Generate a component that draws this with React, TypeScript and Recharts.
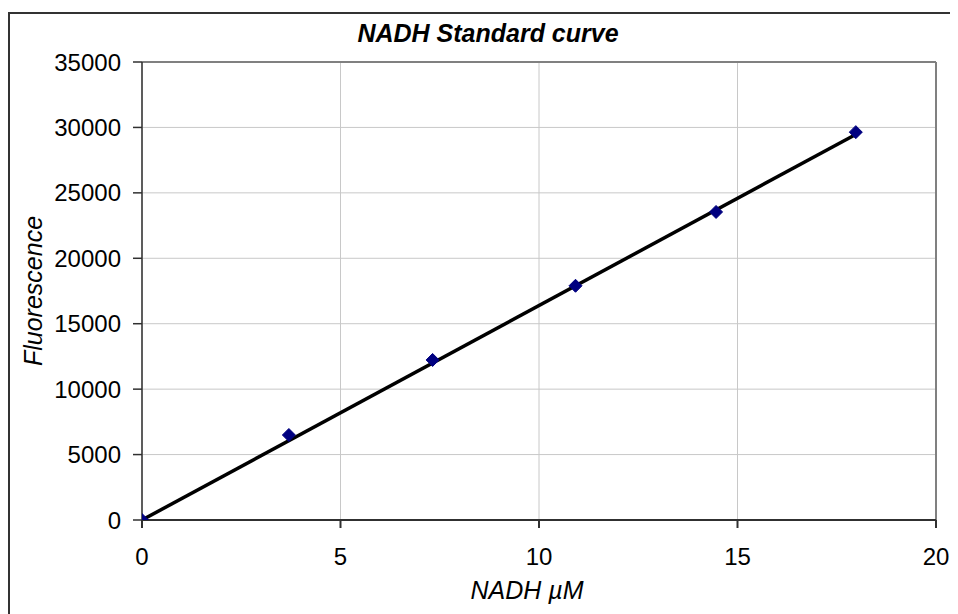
import { ScatterChart, Scatter, XAxis, YAxis, CartesianGrid, ReferenceLine } from "recharts";

const nadhUm = [0, 3.7, 7.32, 10.92, 14.46, 17.98];
const fluorescence = [0, 6495, 12230, 17900, 23540, 29640];

// Excel linear trendline, endpoints
const trendX = [0, 18];
const trendY = [0, 29500];

const xTicks = [0, 5, 10, 15, 20];
const yTicks = [0, 5000, 10000, 15000, 20000, 25000, 30000, 35000];

const points = nadhUm.map((x, i) => ({ x, y: fluorescence[i] }));
const trend = trendX.map((x, i) => ({ x, y: trendY[i] }));

const FONT = "'Liberation Sans', Arial, sans-serif";
const AXIS = "#303030";

function Diamond(props: any) {
  const { cx, cy } = props;
  const r = 6.5;
  return (
    <polygon
      points={`${cx},${cy - r} ${cx + r},${cy} ${cx},${cy + r} ${cx - r},${cy}`}
      fill="#000080"
      stroke="#000080"
    />
  );
}

const NoShape = () => <g />;

export default function App() {
  return (
    <div style={{ position: "relative", width: 950, height: 606, fontFamily: FONT }}>
      <div
        style={{
          position: "absolute",
          left: 0,
          top: 4,
          right: 0,
          bottom: 0,
          borderTop: "2px solid #333",
          borderLeft: "2px solid #333",
        }}
      />
      <ScatterChart
        width={950}
        height={606}
        margin={{ top: 54, right: 22, bottom: 0, left: 0 }}
        style={{ position: "absolute", left: 0, top: 0 }}
      >
        <CartesianGrid stroke="#c8c8c8" strokeWidth={1} />
        <XAxis
          type="number"
          dataKey="x"
          domain={[0, 20]}
          ticks={xTicks}
          allowDataOverflow
          stroke={AXIS}
          strokeWidth={2}
          tickSize={8}
          tickMargin={20}
          height={94}
          tick={{ fill: "#000", fontSize: 24, fontFamily: FONT }}
        />
        <YAxis
          type="number"
          dataKey="y"
          domain={[0, 35000]}
          ticks={yTicks}
          allowDataOverflow
          stroke={AXIS}
          strokeWidth={1.5}
          tickSize={9}
          tickMargin={12}
          width={134}
          tick={{ fill: "#000", fontSize: 24, fontFamily: FONT }}
        />
        <ReferenceLine y={35000} stroke="#808080" strokeWidth={2} />
        <ReferenceLine x={20} stroke="#808080" strokeWidth={2} />
        <Scatter
          data={trend}
          line={{ stroke: "#000", strokeWidth: 3.5 }}
          shape={NoShape}
          isAnimationActive={false}
        />
        <Scatter data={points} shape={Diamond} isAnimationActive={false} />
      </ScatterChart>
      <div
        style={{
          position: "absolute",
          left: 480,
          top: 25,
          transform: "translate(-50%, -50%)",
          fontSize: 25,
          fontWeight: "bold",
          fontStyle: "italic",
          whiteSpace: "nowrap",
        }}
      >
        NADH Standard curve
      </div>
      <div
        style={{
          position: "absolute",
          left: 519,
          top: 582,
          transform: "translate(-50%, -50%)",
          fontSize: 25,
          fontStyle: "italic",
          whiteSpace: "nowrap",
        }}
      >
        NADH µM
      </div>
      <div
        style={{
          position: "absolute",
          left: 25,
          top: 283,
          transform: "translate(-50%, -50%) rotate(-90deg)",
          fontSize: 25,
          fontStyle: "italic",
          whiteSpace: "nowrap",
        }}
      >
        Fluorescence
      </div>
    </div>
  );
}
